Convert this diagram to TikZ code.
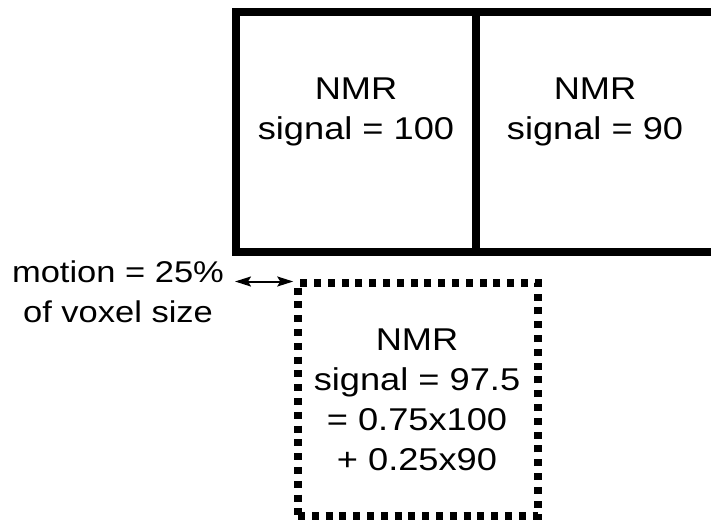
\documentclass[tikz,border=0pt]{standalone}
\usepackage{fontspec}
\setmainfont[FakeStretch=1.15]{Liberation Sans}
\usetikzlibrary{arrows.meta}
\tikzset{
  lbl/.style={align=center, font=\fontsize{31.5}{40}\selectfont, inner sep=0pt},
  sidelbl/.style={align=center, font=\fontsize{30}{40}\selectfont, inner sep=0pt},
  solidframe/.style={line width=8pt, line cap=rect},
  dotframe/.style={draw, line width=7.5pt, dash pattern=on 7pt off 6.8pt, minimum width=240pt, minimum height=233pt, inner sep=0pt},
  motionarrow/.style={line width=2pt, {Stealth[length=16pt,width=10pt,inset=3pt]}-{Stealth[length=16pt,width=10pt,inset=3pt]}}
}
\begin{document}
\begin{tikzpicture}[x=1pt,y=-1pt]
\useasboundingbox (0,0) rectangle (711,527);
% solid voxels (right one runs off the edge)
\draw[solidframe] (720,12) -- (236,12) -- (236,252) -- (720,252);
\draw[solidframe] (476,12) -- (476,252);
\node[lbl] (v1) at (356,112) {NMR\\signal = 100};
\node[lbl] (v2) at (595,112) {NMR\\signal = 90};
% moved voxel
\node[dotframe] (mv) at (418,399.5) {};
\node[lbl] (mvt) at (417,400) {NMR\\signal = 97.5\\= 0.75x100\\+ 0.25x90};
% motion label and arrow
\node[sidelbl] (mot) at (118,292) {motion = 25\%\\of voxel size};
\coordinate (aL) at (235,281.5);
\coordinate (aR) at (mv.north west -| mv.west);
\draw[motionarrow] (aL) -- ([xshift=-1pt]aR |- aL);
\end{tikzpicture}
\end{document}
